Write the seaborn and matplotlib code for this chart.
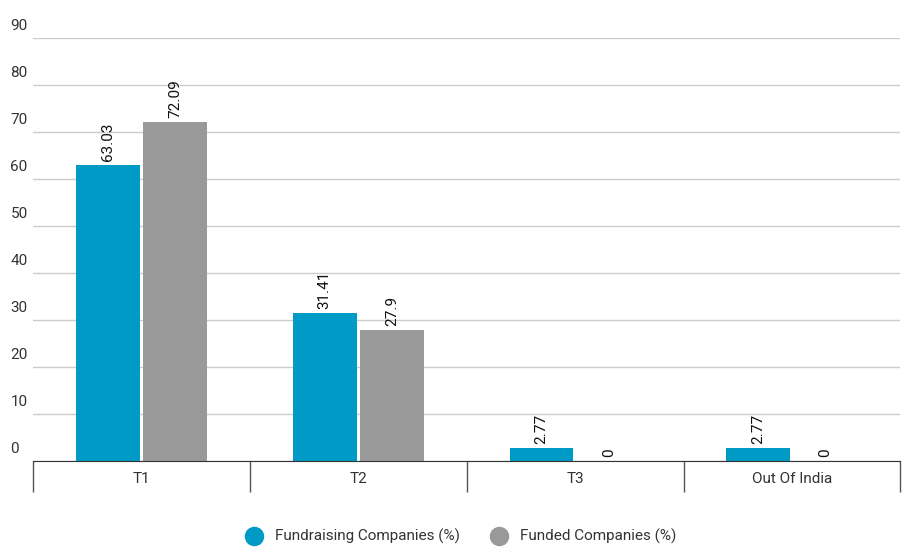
import matplotlib
matplotlib.use("Agg")
import matplotlib.pyplot as plt
import matplotlib.transforms as mtransforms
from matplotlib.lines import Line2D
import seaborn as sns
import pandas as pd

categories = ["T1", "T2", "T3", "Out Of India"]
fundraising = [63.03, 31.41, 2.77, 2.77]
funded = [72.09, 27.9, 0, 0]
series_names = ["Fundraising Companies (%)", "Funded Companies (%)"]
yticks = [0, 10, 20, 30, 40, 50, 60, 70, 80, 90]

plt.rcParams["font.family"] = "Roboto"
df = pd.DataFrame({
    "cat": categories * 2,
    "val": fundraising + funded,
    "series": [series_names[0]] * 4 + [series_names[1]] * 4,
})
colors = ["#009AC7", "#999999"]

fig = plt.figure(figsize=(9.15, 5.59), dpi=100)
ax = fig.add_axes([0.036, 0.175, 0.948, 0.757])
sns.barplot(data=df, x="cat", y="val", hue="series", palette=colors,
            width=0.62, gap=0.05, ax=ax, legend=False, saturation=1)
ax.set_ylim(0, 90)
ax.set_xlim(-0.5, 3.5)
ax.set_yticks(yticks)
ax.set_yticklabels([])
ax.tick_params(axis="y", length=0)
ax.grid(axis="y", color="#cccccc", linewidth=1)
ax.set_axisbelow(True)
for s in ["top", "right", "left"]:
    ax.spines[s].set_visible(False)
ax.spines["bottom"].set_color("#333333")
ax.set_xlabel("")
ax.set_ylabel("")
ax.set_xticks(range(4))
ax.set_xticklabels(categories, fontsize=11, color="#333333")
ax.tick_params(axis="x", length=0, pad=8)
ax.set_xticks([-0.5, 0.5, 1.5, 2.5, 3.5], minor=True)
ax.tick_params(axis="x", which="minor", length=22, color="#555555", width=1)

tr = mtransforms.blended_transform_factory(ax.transAxes, ax.transData)
for t in yticks:
    ax.text(-0.026, t + 1.0, str(t), transform=tr, fontsize=11, color="#333333",
            ha="left", va="bottom")

for cont in ax.containers:
    ax.bar_label(cont, labels=[f"{v:g}" for v in cont.datavalues], rotation=90,
                 padding=3, fontsize=11, color="#111111")

handles = [Line2D([], [], marker="o", linestyle="", markersize=13, color=c) for c in colors]
fig.legend(handles, series_names, loc="center", bbox_to_anchor=(0.5, 0.04), ncol=2,
           frameon=False, fontsize=11, handletextpad=0.4, columnspacing=1.5,
           labelcolor="#333333")
fig.savefig("out.png", dpi=100)
